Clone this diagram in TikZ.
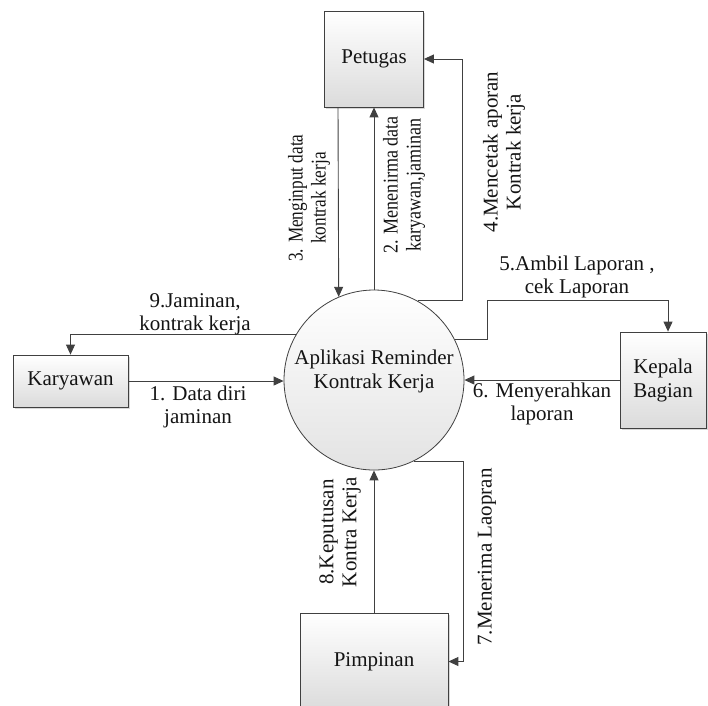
\documentclass[tikz,border=0pt]{standalone}
\usepackage{fontspec}
\setmainfont{Liberation Serif}
\usetikzlibrary{arrows.meta,shadows,calc}
\definecolor{ln}{HTML}{404040}
\definecolor{tx}{HTML}{141414}
\begin{document}
\begin{tikzpicture}[x=1pt,y=-1pt,
  ent/.style={draw=ln, line width=0.8pt, top color=white, bottom color=black!14,
    drop shadow={shadow xshift=1.5pt,shadow yshift=-1.5pt,fill=black!30,opacity=0.5},
    inner sep=0pt, font=\fontsize{21}{24}\selectfont, text=tx, align=center},
  proc/.style={circle, draw=ln, line width=0.8pt, top color=white, bottom color=black!11,
    minimum size=180pt, inner sep=0pt, font=\fontsize{21}{24}\selectfont, text=tx},
  arr/.style={draw=ln, line width=0.9pt, -{Triangle[length=10pt,width=9pt]}},
  lbl/.style={font=\fontsize{21}{23}\selectfont, text=tx, align=center, inner sep=0pt},
  vlbl/.style={lbl, rotate=90}
]
\useasboundingbox (0,0) rectangle (708,705);

\node[ent, minimum width=99pt, minimum height=96pt] (pet) at (374,59) {Petugas};
\node[ent, minimum width=115pt, minimum height=52pt] (kar) at (70.5,381) {Karyawan};
\node[ent, minimum width=86pt, minimum height=96pt] (kep) at (663,380) {Kepala\\Bagian};
\node[ent, minimum width=148pt, minimum height=97pt] (pim) at (374,661.5) {Pimpinan};
\node[proc] (c) at (374,380) {\raisebox{3pt}[0pt][0pt]{\begin{tabular}{@{}c@{}}Aplikasi Reminder\\Kontrak Kerja\end{tabular}}};

\draw[arr] ([xshift=-36pt]pet.south) -- (c.113.6);
\draw[arr] (c.north) -- (pet.south);
\draw[arr] (c.61.4) -- ++(45,0) |- (pet.east);
\draw[arr] (c.150) -| (kar.north);
\draw[arr] (kar.east) -- (kar.east -| c.west);
\draw[arr] (c.27.1) -- ++(33,0) -- ++(0,-39) -| ([xshift=5pt]kep.north);
\draw[arr] (kep.west) -- (c.east);
\draw[arr] (pim.north) -- (c.south);
\draw[arr] (c.-64.3) -- ++(50,0) |- (pim.east);

\node[lbl] (l9) at (195,314) {9.Jaminan,\\kontrak kerja};
\node[lbl] (l1) at (198,407) {1. Data diri\\jaminan};
\node[lbl] (l5) at (577,277) {5.Ambil Laporan ,\\cek Laporan};
\node[lbl] (l6) at (542,404) {6. Menyerahkan\\laporan};
\node[vlbl, xscale=0.82] (l3) at (309,198) {3. Menginput data\\kontrak kerja};
\node[vlbl, xscale=0.86] (l2) at (404,185) {2. Menenirma data\\karyawan,jaminan};
\node[vlbl] (l4) at (504,152) {4.Mencetak aporan\\Kontrak kerja};
\node[vlbl] (l8) at (340,532) {8.Keputusan\\Kontra Kerja};
\node[vlbl] (l7) at (487,557) {7.Menerima Laopran};
\end{tikzpicture}
\end{document}
